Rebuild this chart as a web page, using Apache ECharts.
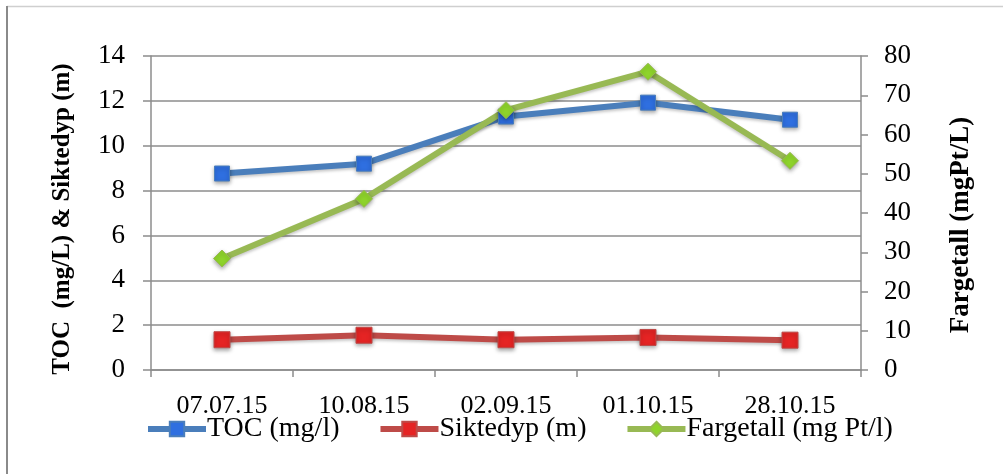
<!DOCTYPE html>
<html>
<head>
<meta charset="utf-8">
<script src="https://cdn.jsdelivr.net/npm/echarts@6/dist/echarts.min.js"></script>
<style>
  html, body { margin: 0; padding: 0; background: #fff; }
  #chart { width: 1003px; height: 474px; }
</style>
</head>
<body>
<div id="chart"></div>
<script>
// Sampling dates
const dates = ['07.07.15', '10.08.15', '02.09.15', '01.10.15', '28.10.15'];

// Measured values per date
const toc = [8.76, 9.2, 11.3, 11.92, 11.16];        // mg/l
const siktedyp = [1.35, 1.55, 1.35, 1.45, 1.33];    // m
const fargetall = [28.4, 43.6, 66.2, 76.0, 53.3];   // mg Pt/l

const serif = '"Liberation Serif", "DejaVu Serif", serif';
const gridGrey = '#8c8c8c';

const chart = echarts.init(document.getElementById('chart'), null, { renderer: 'canvas' });

function lineSeries(name, data, lineColor, markColor, symbol, size, yIndex) {
  return {
    name: name,
    type: 'line',
    data: data,
    yAxisIndex: yIndex,
    symbol: symbol,
    symbolSize: size,
    lineStyle: { color: lineColor, width: 6, shadowColor: 'rgba(0,0,0,0.22)', shadowBlur: 3, shadowOffsetY: 2 },
    itemStyle: {
      color: markColor,
      borderColor: lineColor,
      borderWidth: 1,
      shadowColor: 'rgba(0,0,0,0.35)',
      shadowBlur: 4,
      shadowOffsetY: 2
    },
    emphasis: { disabled: true },
    animation: false,
    z: 3
  };
}

chart.setOption({
  backgroundColor: '#fff',
  animation: false,
  graphic: [
    {
      type: 'line',
      shape: { x1: 7, y1: 6.5, x2: 1003, y2: 6.5 },
      style: { stroke: '#cfcfcf', lineWidth: 1.5 },
      silent: true
    },
    {
      type: 'line',
      shape: { x1: 7, y1: 6, x2: 7, y2: 474 },
      style: { stroke: '#8a8a8a', lineWidth: 2 },
      silent: true
    }
  ],
  grid: { left: 151, right: 142, top: 56, bottom: 104 },
  legend: {
    left: 140,
    top: 410,
    itemWidth: 58,
    itemHeight: 18,
    itemGap: 38,
    lineStyle: { width: 6 },
    textStyle: { fontFamily: serif, fontSize: 28, color: '#000', padding: [0, 0, 0, -4] },
    data: ['TOC (mg/l)', 'Siktedyp (m)', 'Fargetall (mg Pt/l)']
  },
  xAxis: {
    type: 'category',
    data: dates,
    boundaryGap: true,
    axisLine: { lineStyle: { color: gridGrey, width: 1.5 } },
    axisTick: { show: true, length: 7, alignWithLabel: false, lineStyle: { color: gridGrey, width: 1.5 } },
    axisLabel: { fontFamily: serif, fontSize: 26, color: '#000', margin: 23 },
    splitLine: { show: false }
  },
  yAxis: [{
    type: 'value',
    min: 0,
    max: 14,
    interval: 2,
    position: 'left',
    name: 'TOC  (mg/L) & Siktedyp (m)',
    nameLocation: 'middle',
    nameRotate: 90,
    nameGap: 76,
    nameTextStyle: { fontFamily: serif, fontSize: 25, fontWeight: 'bold', color: '#000', padding: [0, 12, 0, 0] },
    axisLine: { show: true, lineStyle: { color: gridGrey, width: 1.5 } },
    axisTick: { show: true, length: 8, lineStyle: { color: gridGrey, width: 1.5 } },
    axisLabel: { fontFamily: serif, fontSize: 27, color: '#000', margin: 26 },
    splitLine: { show: true, lineStyle: { color: gridGrey, width: 1.5 } }
  }, {
    type: 'value',
    min: 0,
    max: 80,
    interval: 10,
    position: 'right',
    name: 'Fargetall (mgPt/L)',
    nameLocation: 'middle',
    nameRotate: 90,
    nameGap: 87,
    nameTextStyle: { fontFamily: serif, fontSize: 27, fontWeight: 'bold', color: '#000', padding: [0, 24, 0, 0] },
    axisLine: { show: true, lineStyle: { color: gridGrey, width: 1.5 } },
    axisTick: { show: true, length: 7, lineStyle: { color: gridGrey, width: 1.5 } },
    axisLabel: { fontFamily: serif, fontSize: 27, color: '#000', margin: 23 },
    splitLine: { show: false }
  }],
  series: [
    lineSeries('TOC (mg/l)', toc, '#4a7ebb', '#2f6fe0', 'rect', 15, 0),
    lineSeries('Siktedyp (m)', siktedyp, '#be4b48', '#e52424', 'rect', 16, 0),
    lineSeries('Fargetall (mg Pt/l)', fargetall, '#98b954', '#8fd42c', 'diamond', 17, 1)
  ]
});
</script>
</body>
</html>
